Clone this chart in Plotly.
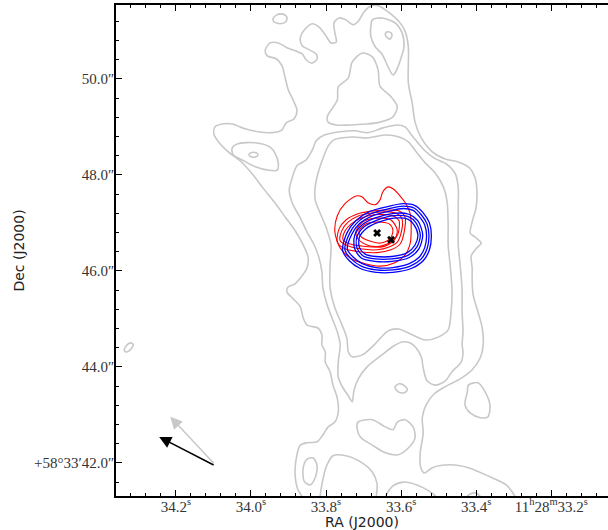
import math
import plotly.graph_objects as go

# ---------------- reference position / axes ----------------
DEC0_DEG = 58 + 33 / 60 + 46 / 3600   # declination of the field (deg)
RA_REF_S = 33.6                        # RA seconds of offset origin (11h28m33.6s)
DEC_REF_AS = 46.0                      # Dec arcsec of offset origin (+58d33m46.0s)
ARCSEC_PER_S = 15 * math.cos(math.radians(DEC0_DEG))

ra_ticks = [34.2, 34.0, 33.8, 33.6, 33.4, 33.2]
ra_ticktext = ["34.2<sup>s</sup>", "34.0<sup>s</sup>", "33.8<sup>s</sup>",
               "33.6<sup>s</sup>", "33.4<sup>s</sup>",
               "11<sup>h</sup>28<sup>m</sup>33.2<sup>s</sup>"]
dec_ticks = [42, 44, 46, 48, 50]
dec_ticktext = ["+58°33′42.0″", "44.0″", "46.0″", "48.0″", "50.0″"]

# view window (offsets in arcsec, west positive / north positive)
x_view = [-5.94, 4.31]
y_view = [41.31, 51.54]

# ---------------- grey contours (offsets in arcsec) ----------------
grey_outer = [(-2.06, -4.80), (-2.06, -4.71), (-2.15, -4.56), (-2.21, -4.21), (-2.17, -3.83), (-2.10, -3.63),
              (-1.96, -3.58), (-1.75, -3.56), (-1.63, -3.42), (-1.52, -3.25), (-1.38, -3.15),
              (-1.31, -2.94), (-1.33, -2.65), (-1.42, -2.38), (-1.48, -2.10), (-1.58, -1.90),
              (-1.58, -1.69), (-1.65, -1.54), (-1.65, -1.33), (-1.73, -1.19), (-1.96, -1.13),
              (-2.04, -0.98), (-2.10, -0.75), (-2.27, -0.56), (-2.38, -0.44), (-2.35, -0.33),
              (-2.21, -0.27), (-2.10, -0.15), (-1.96, 0.06), (-1.94, 0.29), (-2.02, 0.50),
              (-2.19, 0.81), (-2.42, 1.13), (-2.63, 1.42), (-2.88, 1.73), (-3.10, 2.02),
              (-3.35, 2.29), (-3.60, 2.48), (-3.79, 2.67), (-3.90, 2.85), (-3.88, 3.00),
              (-3.73, 3.06), (-3.52, 3.06), (-3.25, 2.96), (-2.98, 2.90), (-2.69, 2.88),
              (-2.48, 2.94), (-2.40, 3.08), (-2.23, 3.17), (-2.17, 3.35), (-2.25, 3.56),
              (-2.35, 3.77), (-2.42, 4.04), (-2.48, 4.27), (-2.60, 4.42), (-2.79, 4.48),
              (-2.83, 4.60), (-2.73, 4.75), (-2.56, 4.75), (-2.38, 4.65), (-2.19, 4.58),
              (-2.06, 4.52), (-1.98, 4.40), (-1.85, 4.33), (-1.75, 4.42), (-1.77, 4.52),
              (-1.90, 4.60), (-2.06, 4.69), (-2.10, 4.85), (-2.00, 5.04), (-1.85, 5.15),
              (-1.71, 5.08), (-1.58, 4.92), (-1.46, 4.75), (-1.35, 4.77), (-1.38, 4.96),
              (-1.40, 5.17), (-1.29, 5.27), (-1.15, 5.23), (-1.00, 5.13), (-0.90, 5.19),
              (-0.77, 5.40), (-0.63, 5.52), (-0.46, 5.52), (-0.25, 5.38), (-0.04, 5.19),
              (0.08, 5.00), (0.15, 4.67), (0.15, 3.92), (0.23, 3.50), (0.29, 3.10),
              (0.42, 2.77), (0.65, 2.48), (0.92, 2.33), (1.19, 2.27), (1.42, 2.15),
              (1.54, 1.94), (1.58, 1.65), (1.56, 1.31), (1.48, 1.02), (1.44, 0.79),
              (1.56, 0.69), (1.67, 0.58), (1.56, 0.46), (1.46, 0.31), (1.48, 0.06),
              (1.48, -0.19), (1.50, -0.50), (1.60, -0.85), (1.69, -1.19), (1.71, -1.54),
              (1.65, -1.81), (1.48, -2.06), (1.23, -2.25), (0.94, -2.40), (0.69, -2.56),
              (0.52, -2.79), (0.44, -3.06), (0.46, -3.38), (0.40, -3.77), (0.40, -4.06),
              (0.48, -4.21), (0.65, -4.10), (1.02, -4.04), (1.40, -4.10), (1.85, -4.29),
              (2.19, -4.46), (2.38, -4.71), (2.42, -4.80)]

grey_mid = [(-2.25, 2.00), (-2.17, 2.19), (-1.98, 2.31), (-1.85, 2.52), (-1.77, 2.71), (-1.60, 2.83),
            (-1.27, 2.90), (-0.96, 2.92), (-0.69, 2.88), (-0.38, 2.98), (-0.08, 3.04), (0.08, 3.00),
            (0.25, 2.79), (0.48, 2.52), (0.69, 2.35), (0.94, 2.23), (1.13, 2.02), (1.19, 1.73),
            (1.19, 1.38), (1.19, 0.96), (1.19, 0.54), (1.23, 0.13), (1.27, -0.40), (1.27, -0.85),
            (1.29, -1.27), (1.27, -1.54), (1.29, -1.69), (1.25, -1.90), (1.06, -2.10), (0.92, -2.29),
            (0.71, -2.38), (0.54, -2.29), (0.46, -2.02), (0.42, -1.79), (0.31, -1.60), (0.19, -1.50),
            (0.02, -1.48), (-0.15, -1.56), (-0.40, -1.75), (-0.71, -2.00), (-0.88, -2.23),
            (-0.98, -2.48), (-1.02, -2.73), (-1.10, -2.60), (-1.21, -2.44), (-1.31, -2.21),
            (-1.31, -1.90), (-1.27, -1.54), (-1.33, -1.27), (-1.44, -0.98), (-1.54, -0.71),
            (-1.63, -0.35), (-1.65, -0.02), (-1.71, 0.27), (-1.81, 0.54), (-1.96, 0.81),
            (-2.10, 1.10), (-2.27, 1.42), (-2.33, 1.69), (-2.25, 2.00)]

grey_inner = [(-1.79, 1.48), (-1.79, 1.75), (-1.73, 2.04), (-1.60, 2.42), (-1.52, 2.60), (-1.40, 2.73),
              (-1.02, 2.79), (-0.71, 2.77), (-0.31, 2.83), (-0.04, 2.79), (0.15, 2.69), (0.33, 2.46),
              (0.50, 2.25), (0.71, 2.04), (0.88, 1.75), (0.96, 1.42), (0.98, 0.96), (0.98, 0.54),
              (1.02, 0.13), (1.06, -0.40), (1.04, -0.85), (0.98, -1.23), (0.77, -1.38), (0.50, -1.44),
              (0.23, -1.33), (-0.06, -1.21), (-0.27, -1.25), (-0.56, -1.54), (-0.81, -1.75),
              (-1.02, -1.79), (-1.10, -1.69), (-1.13, -1.40), (-1.23, -1.13), (-1.38, -0.77),
              (-1.48, -0.35), (-1.48, 0.13), (-1.46, 0.54), (-1.56, 0.90), (-1.69, 1.21), (-1.79, 1.48)]

grey_west_lobe = [(-3.52, 2.56), (-3.40, 2.65), (-3.04, 2.67), (-2.73, 2.58), (-2.63, 2.46), (-2.56, 2.25),
                  (-2.58, 2.10), (-2.77, 2.10), (-3.04, 2.17), (-3.31, 2.31), (-3.50, 2.42), (-3.52, 2.56)]
grey_west_peak = [(-3.17, 2.42), (-3.13, 2.46), (-3.02, 2.46), (-2.98, 2.42), (-3.02, 2.38), (-3.13, 2.38),
                  (-3.17, 2.42)]
grey_north_blob = [(-2.67, 5.25), (-2.60, 5.33), (-2.46, 5.35), (-2.38, 5.29), (-2.40, 5.19), (-2.52, 5.15),
                   (-2.65, 5.19), (-2.67, 5.25)]
grey_north_lobe = [(-0.60, 5.23), (-0.40, 5.27), (-0.13, 5.17), (0.02, 4.96), (0.06, 4.67), (0.00, 4.44),
                   (-0.10, 4.17), (-0.17, 4.08), (-0.27, 4.25), (-0.40, 4.52), (-0.54, 4.67),
                   (-0.63, 4.88), (-0.63, 5.10), (-0.60, 5.23)]
grey_north_peak = [(-0.33, 4.94), (-0.29, 4.98), (-0.21, 4.96), (-0.19, 4.90), (-0.23, 4.83), (-0.31, 4.88),
                   (-0.33, 4.94)]
grey_triangle = [(-1.54, 3.21), (-1.33, 3.56), (-1.31, 3.83), (-1.10, 4.02), (-1.02, 4.35), (-0.81, 4.54),
                 (-0.60, 4.46), (-0.48, 4.19), (-0.44, 3.85), (-0.21, 3.63), (-0.08, 3.42), (-0.17, 3.21),
                 (-0.44, 3.10), (-0.73, 3.06), (-1.06, 3.04), (-1.35, 3.04), (-1.52, 3.10), (-1.54, 3.21)]
grey_south_dot = [(-0.13, -2.42), (-0.04, -2.35), (0.08, -2.40), (0.13, -2.48), (0.06, -2.54), (-0.06, -2.52),
                  (-0.13, -2.42)]
grey_east_isl = [(1.40, -2.38), (1.60, -2.33), (1.75, -2.52), (1.85, -2.79), (1.81, -3.04), (1.65, -3.06),
                 (1.44, -2.96), (1.33, -2.79), (1.38, -2.52), (1.40, -2.38)]
grey_south_isl = [(-0.90, -3.15), (-0.60, -3.10), (-0.33, -3.25), (-0.17, -3.31), (-0.08, -3.15), (0.08, -3.10),
                  (0.25, -3.25), (0.29, -3.48), (0.15, -3.69), (-0.06, -3.83), (-0.33, -3.79),
                  (-0.60, -3.63), (-0.85, -3.46), (-0.92, -3.27), (-0.90, -3.15)]
grey_south_arc = [(-0.36, -4.80), (-0.33, -4.71), (-0.17, -4.48), (0.04, -4.40), (0.33, -4.46), (0.60, -4.60),
                  (0.75, -4.73), (0.79, -4.80)]
grey_sw_lobe = [(-1.69, -4.80), (-1.69, -4.73), (-1.63, -4.35), (-1.56, -4.08), (-1.42, -3.85), (-1.15, -3.85),
                (-0.81, -4.00), (-0.60, -4.19), (-0.50, -4.44), (-0.52, -4.73), (-0.52, -4.80)]
grey_sw_blob = [(-2.04, -4.10), (-1.96, -3.92), (-1.83, -3.90), (-1.75, -4.06), (-1.79, -4.31), (-1.90, -4.46),
                (-2.02, -4.38), (-2.04, -4.10)]
grey_far_east_blob = [(-5.77, -1.65), (-5.71, -1.54), (-5.63, -1.50), (-5.58, -1.54), (-5.65, -1.65),
                      (-5.73, -1.69), (-5.77, -1.65)]
grey_se_arc = [(1.33, -4.80), (1.35, -4.73), (1.44, -4.65), (1.56, -4.63), (1.67, -4.73), (1.69, -4.80)]

# ---------------- red contours ----------------
red_1 = [(-1.38, 0.81), (-1.33, 1.15), (-1.17, 1.40), (-0.94, 1.56), (-0.81, 1.54), (-0.69, 1.42),
         (-0.54, 1.38), (-0.44, 1.48), (-0.38, 1.65), (-0.27, 1.75), (-0.17, 1.71), (-0.02, 1.56),
         (0.10, 1.40), (0.19, 1.19), (0.21, 0.90), (0.19, 0.58), (0.08, 0.33), (-0.13, 0.17),
         (-0.44, 0.10), (-0.75, 0.15), (-1.06, 0.27), (-1.27, 0.48), (-1.38, 0.81)]
red_2a = [(-1.33, 0.60), (-1.29, 0.88), (-1.15, 1.06), (-0.90, 1.19), (-0.58, 1.25), (-0.27, 1.27),
          (-0.04, 1.25), (0.08, 1.13), (0.06, 0.79), (-0.02, 0.56), (-0.21, 0.44), (-0.50, 0.38),
          (-0.88, 0.40), (-1.17, 0.46), (-1.33, 0.60)]
red_2b = [(-1.27, 0.63), (-1.23, 0.85), (-1.10, 1.02), (-0.88, 1.15), (-0.58, 1.21), (-0.27, 1.23),
          (-0.08, 1.19), (0.02, 1.08), (0.00, 0.79), (-0.08, 0.60), (-0.25, 0.50), (-0.50, 0.44),
          (-0.85, 0.46), (-1.10, 0.52), (-1.27, 0.63)]
red_2c = [(-1.21, 0.65), (-1.17, 0.83), (-1.04, 0.98), (-0.83, 1.10), (-0.56, 1.17), (-0.29, 1.17),
          (-0.13, 1.13), (-0.04, 1.04), (-0.06, 0.79), (-0.15, 0.65), (-0.29, 0.56), (-0.52, 0.50),
          (-0.83, 0.52), (-1.06, 0.56), (-1.21, 0.65)]
red_3a = [(-0.94, 0.83), (-0.77, 1.04), (-0.48, 1.10), (-0.21, 1.06), (-0.08, 0.85), (-0.15, 0.63),
          (-0.40, 0.50), (-0.71, 0.54), (-0.90, 0.67), (-0.94, 0.83)]
red_3b = [(-0.88, 0.83), (-0.73, 0.98), (-0.48, 1.02), (-0.25, 0.98), (-0.17, 0.85), (-0.23, 0.67),
          (-0.42, 0.58), (-0.67, 0.63), (-0.83, 0.71), (-0.88, 0.83)]

# ---------------- blue contours ----------------
blue_1a = [(-1.22, 0.43), (-1.13, 0.79), (-0.95, 1.04), (-0.65, 1.24), (-0.28, 1.34), (0.04, 1.40),
           (0.29, 1.36), (0.46, 1.21), (0.59, 1.00), (0.63, 0.73), (0.59, 0.44), (0.46, 0.21),
           (0.21, 0.05), (-0.17, -0.03), (-0.52, -0.03), (-0.85, 0.05), (-1.08, 0.21), (-1.22, 0.43)]
blue_1b = [(-1.17, 0.44), (-1.08, 0.77), (-0.92, 1.00), (-0.63, 1.19), (-0.27, 1.29), (0.04, 1.35),
           (0.27, 1.31), (0.42, 1.17), (0.54, 0.98), (0.58, 0.73), (0.54, 0.46), (0.42, 0.25),
           (0.19, 0.10), (-0.17, 0.02), (-0.52, 0.02), (-0.83, 0.10), (-1.04, 0.25), (-1.17, 0.44)]
blue_1c = [(-1.12, 0.45), (-1.03, 0.76), (-0.88, 0.97), (-0.61, 1.14), (-0.26, 1.24), (0.04, 1.30),
           (0.25, 1.26), (0.38, 1.13), (0.49, 0.96), (0.53, 0.73), (0.49, 0.48), (0.38, 0.29),
           (0.17, 0.15), (-0.17, 0.07), (-0.52, 0.07), (-0.81, 0.15), (-1.00, 0.29), (-1.12, 0.45)]
blue_2a = [(-0.97, 0.47), (-0.97, 0.73), (-0.81, 0.96), (-0.52, 1.11), (-0.15, 1.20), (0.16, 1.18),
           (0.35, 1.04), (0.45, 0.75), (0.37, 0.46), (0.17, 0.28), (-0.19, 0.20), (-0.55, 0.20),
           (-0.83, 0.27), (-0.97, 0.47)]
blue_2b = [(-0.92, 0.48), (-0.92, 0.71), (-0.77, 0.92), (-0.50, 1.06), (-0.15, 1.15), (0.15, 1.13),
           (0.31, 1.00), (0.40, 0.75), (0.33, 0.50), (0.15, 0.33), (-0.19, 0.25), (-0.54, 0.25),
           (-0.79, 0.31), (-0.92, 0.48)]
blue_2c = [(-0.87, 0.49), (-0.87, 0.70), (-0.73, 0.88), (-0.48, 1.01), (-0.15, 1.10), (0.14, 1.08),
           (0.27, 0.96), (0.35, 0.75), (0.29, 0.54), (0.13, 0.38), (-0.19, 0.30), (-0.53, 0.30),
           (-0.75, 0.35), (-0.87, 0.49)]

# ---------------- sources and arrows ----------------
source_dx = [-0.50, -0.21]
source_dy = [0.79, 0.65]
arrow_black = {"tail": (-3.875, -4.06), "head": (-5.04, -3.46)}
arrow_grey = {"tail": (-3.875, -4.04), "head": (-4.81, -3.04)}

GREY = "rgb(200,200,200)"

fig = go.Figure()


def add_line(pts, color, width):
    fig.add_trace(go.Scatter(
        x=[p[0] for p in pts], y=[DEC_REF_AS + p[1] for p in pts],
        mode="lines", line=dict(color=color, width=width, shape="spline", smoothing=0.8),
        hoverinfo="skip", showlegend=False))


for c in [grey_outer, grey_mid, grey_inner, grey_west_lobe, grey_west_peak, grey_north_blob,
          grey_north_lobe, grey_north_peak, grey_triangle, grey_south_dot, grey_east_isl,
          grey_south_isl, grey_south_arc, grey_sw_lobe, grey_sw_blob, grey_far_east_blob, grey_se_arc]:
    add_line(c, GREY, 1.6)

for c in [red_1, red_2a, red_2b, red_2c, red_3a, red_3b]:
    add_line(c, "red", 1.1)

for c in [blue_1a, blue_1b, blue_1c, blue_2a, blue_2b, blue_2c]:
    add_line(c, "blue", 1.3)

fig.add_trace(go.Scatter(
    x=source_dx, y=[DEC_REF_AS + d for d in source_dy], mode="markers",
    marker=dict(symbol="x", size=7, color="black", line=dict(width=0)),
    hoverinfo="skip", showlegend=False))

for arr, col in [(arrow_grey, "rgb(200,200,200)"), (arrow_black, "black")]:
    fig.add_annotation(
        x=arr["head"][0], y=DEC_REF_AS + arr["head"][1],
        ax=arr["tail"][0], ay=DEC_REF_AS + arr["tail"][1],
        xref="x", yref="y", axref="x", ayref="y",
        text="", showarrow=True, arrowhead=2, arrowsize=1.6, arrowwidth=1.5,
        arrowcolor=col)

tick_x = [(RA_REF_S - ra) * ARCSEC_PER_S for ra in ra_ticks]

tickfont = dict(family="Liberation Serif", size=15, color="#333")
titlefont = dict(family="DejaVu Sans", size=14, color="#222")

fig.update_layout(
    width=608, height=530,
    margin=dict(l=116, r=0, t=5, b=34),
    paper_bgcolor="white", plot_bgcolor="white",
    hovermode=False,
    xaxis=dict(
        range=x_view, tickvals=tick_x, ticktext=ra_ticktext, tickfont=tickfont,
        ticks="inside", ticklen=6, tickwidth=1, tickcolor="black",
        ticklabelstandoff=-4,
        minor=dict(tick0=0, dtick=0.2 / 5 * ARCSEC_PER_S, ticks="inside", ticklen=3,
                   tickcolor="black", tickwidth=1, showgrid=False),
        showline=True, linecolor="black", linewidth=1.5, mirror="ticks",
        showgrid=False, zeroline=False, automargin=False,
        title=dict(text="RA (J2000)", font=titlefont, standoff=6),
    ),
    yaxis=dict(
        range=y_view, tickvals=dec_ticks, ticktext=dec_ticktext, tickfont=tickfont,
        ticks="inside", ticklen=6, tickwidth=1, tickcolor="black",
        ticklabelstandoff=-3,
        minor=dict(tick0=0, dtick=0.4, ticks="inside", ticklen=3,
                   tickcolor="black", tickwidth=1, showgrid=False),
        showline=True, linecolor="black", linewidth=1.5, mirror=False,
        showgrid=False, zeroline=False, automargin=False,
        title=dict(text="Dec (J2000)", font=titlefont, standoff=6),
    ),
)

fig.write_html("out.html")
